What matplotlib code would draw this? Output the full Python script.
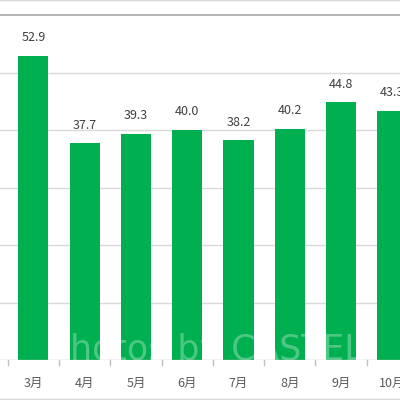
import matplotlib.pyplot as plt
from matplotlib.lines import Line2D

plt.rcParams['font.family'] = ['Noto Sans CJK JP', 'DejaVu Sans']

# 月别数据（右端 10月 被截断）
months = ['3月', '4月', '5月', '6月', '7月', '8月', '9月', '10月']
values = [52.9, 37.7, 39.3, 40.0, 38.2, 40.2, 44.8, 43.3]
labels = ['52.9', '37.7', '39.3', '40.0', '38.2', '40.2', '44.8', '43.3']

fig = plt.figure(figsize=(4, 4), dpi=100)
ax = fig.add_axes([0, 40 / 400, 1, 345 / 400])

x = range(len(months))
ax.bar(x, values, width=0.585, color='#00B050', zorder=3)

for i, (v, t) in enumerate(zip(values, labels)):
    ax.annotate(t, xy=(i, v), xytext=(0, 13), textcoords='offset points',
                ha='center', va='center', fontsize=9, color='#404040')

ax.set_xlim(-0.649, 7.148)
ax.set_ylim(0, 60)
ax.set_yticks([10, 20, 30, 40, 50])
ax.yaxis.grid(True, color='#d9d9d9', lw=1)
ax.set_axisbelow(True)
ax.axhline(0, color='#bfbfbf', lw=1, zorder=4)
for s in ax.spines.values():
    s.set_visible(False)
ax.tick_params(left=False, labelleft=False, bottom=False)
ax.set_xticks(list(x))
ax.set_xticklabels(months, fontsize=9, color='#595959')
ax.tick_params(axis='x', pad=9)

# 分类分隔刻度
for i in range(len(months)):
    ax.plot([i - 0.5, i - 0.5], [0, -0.8], color='#bfbfbf', lw=1, clip_on=False)

# 外框线
fig.add_artist(Line2D([0, 1], [1 - 15 / 400] * 2, color='#a6a6a6', lw=1.2))
fig.add_artist(Line2D([0, 1], [0.999] * 2, color='#d9d9d9', lw=1))
fig.add_artist(Line2D([0, 1], [0.002] * 2, color='#d9d9d9', lw=1))

# 水印
fig.text(0.12, 0.125, 'photos by CASTEL', fontsize=25, color='white', alpha=0.3,
         family='DejaVu Sans', ha='left', va='center', zorder=10)

fig.savefig('out.png', dpi=100)
